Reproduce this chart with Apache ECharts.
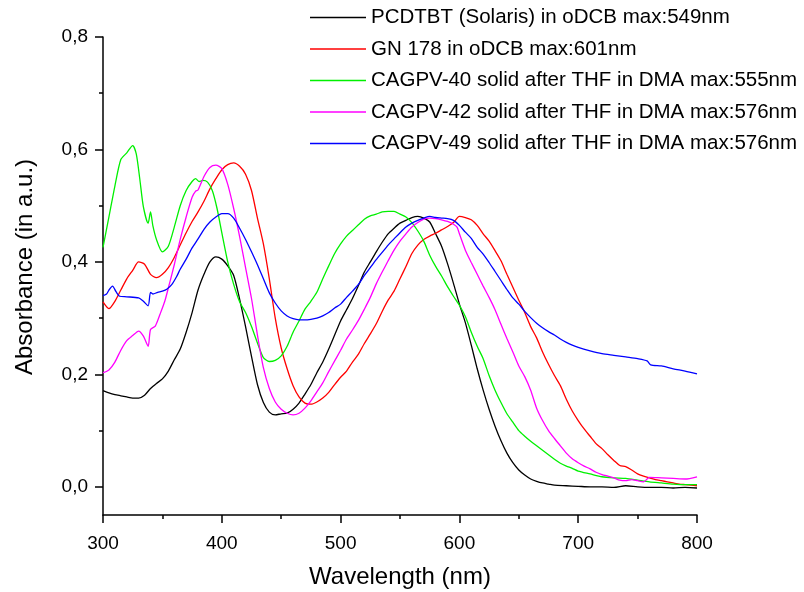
<!DOCTYPE html>
<html>
<head>
<meta charset="utf-8">
<script src="https://cdn.jsdelivr.net/npm/echarts@6/dist/echarts.min.js"></script>
<style>html,body{margin:0;padding:0;background:#fff}#c{width:804px;height:592px}</style>
</head>
<body>
<div id="c"></div>
<script>
var seriesNames = [
  'PCDTBT (Solaris) in oDCB max:549nm',
  'GN 178 in oDCB max:601nm',
  'CAGPV-40 solid after THF in DMA max:555nm',
  'CAGPV-42 solid after THF in DMA max:576nm',
  'CAGPV-49 solid after THF in DMA max:576nm'
];
var seriesColors = ['#000000', '#ff0000', '#00f000', '#ff00ff', '#0000ff'];
var xTicks = [300, 400, 500, 600, 700, 800];
var yTicks = [0, 0.2, 0.4, 0.6, 0.8];
var yMinorTicks = [0.1, 0.3, 0.5, 0.7];

var wlBlack = [300,305,310,315,320,325,330,335,340,345,350,355,360,365,370,375,380,385,390,395,400,405,410,415,420,425,430,435,440,445,450,455,460,465,470,475,480,485,490,495,500,505,510,515,520,525,530,535,540,545,550,555,560,565,570,575,580,585,590,595,600,605,610,615,620,625,630,635,640,645,650,655,660,665,670,675,680,690,700,710,720,730,740,750,760,770,780,790,800];
var absBlack = [0.171,0.167,0.164,0.162,0.16,0.158,0.158,0.163,0.175,0.184,0.192,0.206,0.226,0.245,0.275,0.31,0.35,0.378,0.40,0.409,0.405,0.393,0.376,0.334,0.285,0.232,0.182,0.15,0.133,0.128,0.13,0.131,0.138,0.149,0.165,0.182,0.203,0.222,0.245,0.27,0.295,0.315,0.335,0.358,0.382,0.40,0.418,0.435,0.45,0.46,0.469,0.474,0.479,0.481,0.478,0.471,0.45,0.428,0.397,0.362,0.325,0.292,0.252,0.21,0.172,0.138,0.108,0.082,0.06,0.043,0.03,0.021,0.014,0.01,0.007,0.005,0.003,0.002,0.001,0.0,0.0,-0.001,0.002,0.0,-0.001,-0.001,-0.002,-0.001,-0.002];

var wlRed = [300,305,310,315,320,325,330,335,340,345,350,355,360,365,370,375,380,385,390,395,400,405,410,415,420,425,430,435,440,445,450,455,460,465,470,475,480,485,490,495,500,505,510,515,520,525,530,535,540,545,550,555,560,565,570,575,580,585,590,595,600,605,610,615,620,625,630,635,640,645,650,655,660,665,670,675,680,685,690,695,700,705,710,715,720,725,730,735,740,745,750,755,760,765,770,775,780,785,790,795,800];
var absRed = [0.329,0.317,0.33,0.35,0.37,0.385,0.40,0.396,0.378,0.372,0.378,0.39,0.408,0.43,0.452,0.472,0.489,0.508,0.53,0.548,0.564,0.573,0.576,0.570,0.556,0.527,0.478,0.432,0.37,0.30,0.247,0.21,0.18,0.16,0.149,0.147,0.151,0.158,0.168,0.182,0.195,0.206,0.222,0.236,0.255,0.272,0.29,0.312,0.332,0.348,0.37,0.392,0.415,0.43,0.44,0.446,0.451,0.457,0.463,0.47,0.481,0.479,0.475,0.465,0.45,0.437,0.42,0.402,0.378,0.355,0.332,0.31,0.285,0.265,0.24,0.218,0.198,0.18,0.156,0.135,0.118,0.103,0.09,0.077,0.068,0.057,0.047,0.038,0.036,0.03,0.023,0.019,0.016,0.013,0.011,0.009,0.007,0.005,0.004,0.003,0.002];

var wlGreen = [300,305,310,315,320,325,328,331,334,338,340,342,345,350,355,360,365,370,375,378,381,384,388,392,396,400,405,410,415,420,425,430,435,440,445,450,455,460,465,470,475,480,485,490,495,500,505,510,515,520,525,530,535,540,545,550,555,560,565,570,575,580,585,590,595,600,605,610,615,620,625,630,635,640,645,650,655,660,665,670,675,680,685,690,695,700,710,720,730,740,750,760,770,780,790,800];
var absGreen = [0.426,0.48,0.535,0.582,0.594,0.607,0.592,0.547,0.498,0.469,0.489,0.464,0.44,0.418,0.428,0.462,0.5,0.527,0.543,0.548,0.543,0.545,0.542,0.527,0.495,0.452,0.40,0.36,0.329,0.31,0.285,0.256,0.23,0.223,0.225,0.233,0.25,0.275,0.295,0.316,0.33,0.346,0.37,0.393,0.415,0.432,0.446,0.456,0.466,0.476,0.482,0.485,0.489,0.49,0.49,0.485,0.48,0.47,0.455,0.437,0.412,0.392,0.375,0.356,0.339,0.323,0.303,0.275,0.25,0.228,0.198,0.172,0.15,0.13,0.115,0.1,0.09,0.081,0.073,0.065,0.057,0.049,0.042,0.037,0.033,0.028,0.023,0.018,0.016,0.015,0.012,0.009,0.007,0.005,0.004,0.004];

var wlMagenta = [300,305,310,315,320,325,330,334,338,340,344,348,352,356,360,365,370,375,378,380,385,390,395,400,405,410,415,420,425,430,435,440,445,450,455,460,465,470,475,480,485,490,495,500,505,510,515,520,525,530,535,540,545,550,555,560,565,570,575,580,585,590,595,598,600,605,610,615,620,625,630,635,640,645,650,655,660,665,670,675,680,685,690,695,700,705,710,715,720,725,730,735,740,745,750,755,760,770,780,790,800];
var absMagenta = [0.203,0.208,0.222,0.243,0.26,0.269,0.277,0.268,0.25,0.28,0.286,0.307,0.33,0.362,0.395,0.44,0.48,0.515,0.526,0.528,0.552,0.568,0.572,0.566,0.538,0.495,0.445,0.39,0.335,0.27,0.212,0.175,0.151,0.138,0.131,0.128,0.131,0.14,0.153,0.169,0.185,0.205,0.224,0.243,0.263,0.279,0.296,0.316,0.337,0.361,0.382,0.402,0.421,0.437,0.45,0.462,0.47,0.476,0.478,0.477,0.475,0.472,0.467,0.462,0.45,0.421,0.399,0.378,0.357,0.337,0.315,0.289,0.264,0.24,0.215,0.196,0.172,0.14,0.118,0.1,0.086,0.073,0.06,0.05,0.043,0.037,0.032,0.026,0.022,0.019,0.016,0.012,0.011,0.013,0.011,0.009,0.017,0.016,0.015,0.014,0.018];

var wlBlue = [300,303,305,308,311,314,320,330,334,338,340,342,346,350,354,358,362,365,370,375,380,385,390,395,400,405,410,415,420,425,430,435,440,445,450,455,460,465,470,475,480,485,490,495,500,505,510,515,520,525,530,535,540,545,550,555,560,565,570,575,580,585,590,595,600,605,610,615,620,625,630,635,640,645,650,655,660,665,670,675,680,685,690,695,700,710,720,730,740,750,758,761,770,780,790,800];
var absBlue = [0.34,0.343,0.35,0.357,0.347,0.339,0.338,0.336,0.33,0.322,0.346,0.343,0.346,0.348,0.352,0.36,0.374,0.387,0.405,0.425,0.441,0.458,0.471,0.48,0.486,0.486,0.478,0.46,0.44,0.418,0.395,0.37,0.345,0.327,0.313,0.304,0.299,0.297,0.297,0.298,0.30,0.304,0.31,0.318,0.325,0.337,0.348,0.36,0.376,0.39,0.404,0.417,0.43,0.441,0.452,0.462,0.469,0.474,0.478,0.481,0.479,0.478,0.477,0.474,0.465,0.453,0.442,0.426,0.414,0.399,0.383,0.367,0.351,0.336,0.325,0.312,0.301,0.291,0.283,0.276,0.27,0.263,0.257,0.252,0.248,0.242,0.237,0.234,0.231,0.228,0.224,0.217,0.215,0.21,0.206,0.201];

var wls = [wlBlack, wlRed, wlGreen, wlMagenta, wlBlue];
var abss = [absBlack, absRed, absGreen, absMagenta, absBlue];

function pairs(xs, ys) { return xs.map(function (x, i) { return [x, ys[i]]; }); }

var FONT = '"Liberation Sans", Arial, sans-serif';
var chart = echarts.init(document.getElementById('c'), null, { renderer: 'canvas' });

var series = seriesNames.map(function (n, i) {
  return {
    name: n, type: 'line', data: pairs(wls[i], abss[i]),
    symbol: 'none', smooth: 0.25, xAxisIndex: 0, yAxisIndex: 0,
    lineStyle: { color: seriesColors[i], width: 1.3 },
    itemStyle: { color: seriesColors[i] },
    animation: false
  };
});

chart.setOption({
  animation: false,
  backgroundColor: '#ffffff',
  grid: { left: 103, right: 107, top: 37, bottom: 77, outerBoundsMode: 'none' },
  legend: {
    orient: 'vertical', left: 310, top: 7, padding: 0,
    icon: 'rect',
    itemWidth: 56, itemHeight: 1.5, itemGap: 10.5,
    textStyle: { fontFamily: FONT, fontSize: 20.5, color: '#000', lineHeight: 20 },
    data: seriesNames
  },
  xAxis: [{
    type: 'value', min: 300, max: 800, interval: 100,
    name: 'Wavelength (nm)', nameLocation: 'middle', nameGap: 50,
    nameTextStyle: { fontFamily: FONT, fontSize: 24, color: '#000' },
    axisLine: { show: true, onZero: false, lineStyle: { color: '#000', width: 1.5 } },
    axisTick: { show: true, inside: false, length: 8, lineStyle: { color: '#000', width: 1.5 }, customValues: xTicks },
    minorTick: { show: true, splitNumber: 2, length: 4, lineStyle: { color: '#000', width: 1.5 } },
    axisLabel: { fontFamily: FONT, fontSize: 19, color: '#000', margin: 19, customValues: xTicks },
    splitLine: { show: false }, minorSplitLine: { show: false }
  }],
  yAxis: [{
    type: 'value', min: -0.05, max: 0.8,
    name: 'Absorbance (in a.u.)', nameLocation: 'middle', nameGap: 66, nameRotate: 90,
    nameTextStyle: { fontFamily: FONT, fontSize: 24, color: '#000', padding: [0, 0, 0, 18] },
    axisLine: { show: true, onZero: false, lineStyle: { color: '#000', width: 1.5 } },
    axisTick: { show: true, inside: false, length: 8, lineStyle: { color: '#000', width: 1.5 }, customValues: yTicks },
    axisLabel: {
      fontFamily: FONT, fontSize: 19, color: '#000', margin: 15, customValues: yTicks,
      formatter: function (v) { return v.toFixed(1).replace('.', ','); }
    },
    splitLine: { show: false }
  }, {
    type: 'value', min: -0.05, max: 0.8, position: 'left',
    axisLine: { show: false },
    axisTick: { show: true, inside: false, length: 4, lineStyle: { color: '#000', width: 1.5 }, customValues: yMinorTicks },
    axisLabel: { show: false },
    splitLine: { show: false }
  }],
  series: series
});
</script>
</body>
</html>
